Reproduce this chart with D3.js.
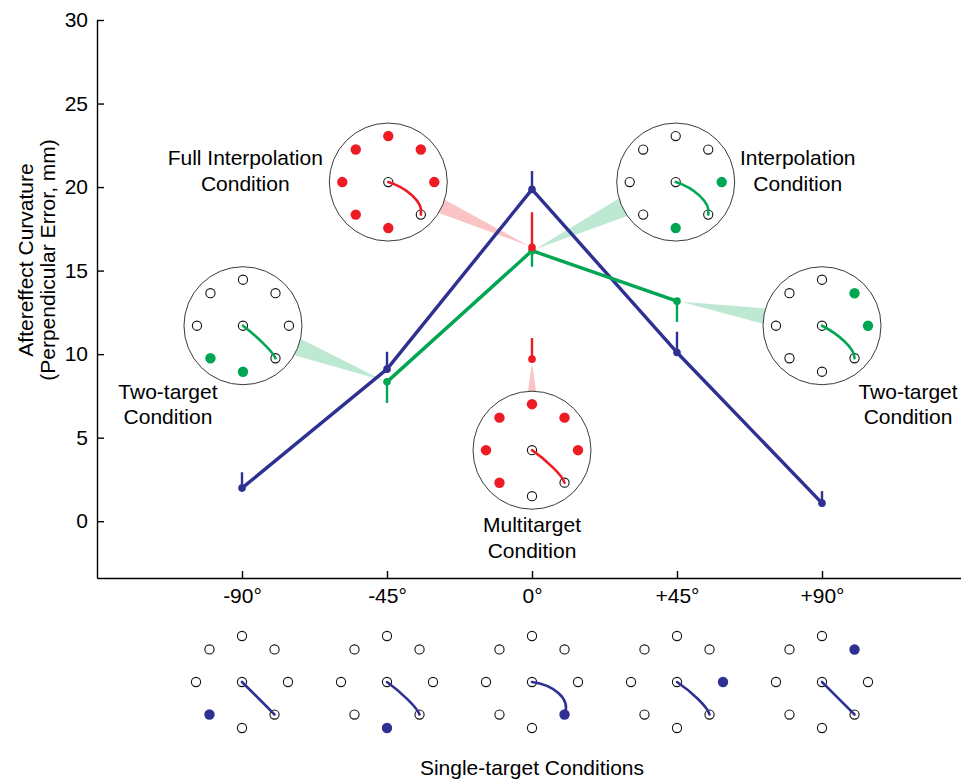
<!DOCTYPE html>
<html>
<head>
<meta charset="utf-8">
<script src="https://cdn.jsdelivr.net/npm/d3@7"></script>
<style>
  html, body { margin: 0; padding: 0; background: #fff; }
  svg { display: block; }
  text { font-family: "Liberation Sans", Arial, Helvetica, sans-serif; fill: #000; }
</style>
</head>
<body>
<svg id="chart" width="961" height="780"></svg>
<script>
// ---------------- data ----------------
const categories = [-90, -45, 0, 45, 90];
const tickLabels = ["-90°", "-45°", "0°", "+45°", "+90°"];
const yTicks = [0, 5, 10, 15, 20, 25, 30];

// Single-target conditions (blue)
const singleValues = [1.98, 9.1, 19.86, 10.1, 1.08];
const singleErrors = [0.95, 1.04, 1.1, 1.24, 0.72];

// Two-target / interpolation conditions (green)
const twoAngles = [-45, 0, 45];
const twoValues = [8.34, 16.19, 13.17];
const twoErrors = [1.26, 0.96, 1.24];

// Full interpolation & multitarget conditions (red), both at 0°
const redAngles = [0, 0];
const redValues = [16.39, 9.7];
const redErrors = [2.1, 1.26];

// Trained-target offsets (deg) relative to the probe target for each inset
const fullInterpTargets = [45, 90, 135, 180, -135, -90, -45];
const interpTargets = [-45, 45];
const twoLeftTargets = [-90, -45];
const twoRightTargets = [45, 90];
const multiTargets = [45, 90, 135, 180, -135, -90];

// ---------------- layout ----------------
const blue = "#2e3192", green = "#00a651", red = "#ed1c24";
const FS = 21;
const svg = d3.select("#chart");

const x = d3.scaleLinear().domain([-135, 135]).range([97, 967]);
const y = d3.scaleLinear().domain([-3.4, 30]).range([578, 20]);

const R_INSET = 59, R_RING = 46, R_OPEN = 4.6, R_FILL = 5.2;
const PROBE = -45; // probe target direction (deg, math convention)

// ---------- helpers ----------
function dirVec(deg) {
  const a = deg * Math.PI / 180;
  return [Math.cos(a), -Math.sin(a)];
}

function drawTargetGlyph(g, filledOffsets, color, value, withBorder) {
  if (withBorder) {
    g.append("circle").attr("r", R_INSET).attr("fill", "#fff")
      .attr("stroke", "#3a3a3a").attr("stroke-width", 1);
  }
  const angles = d3.range(8).map(i => i * 45);
  const filledAngles = filledOffsets.map(o => ((PROBE + o) % 360 + 360) % 360);
  const probeA = ((PROBE % 360) + 360) % 360;
  const openAngles = angles.filter(a => !filledAngles.includes(a));
  g.selectAll("circle.open").data(openAngles).enter().append("circle")
    .attr("class", "open")
    .attr("cx", a => dirVec(a)[0] * R_RING)
    .attr("cy", a => dirVec(a)[1] * R_RING)
    .attr("r", R_OPEN).attr("fill", "#fff").attr("stroke", "#111").attr("stroke-width", 1.1);
  g.append("circle").attr("r", R_OPEN).attr("fill", "#fff").attr("stroke", "#111").attr("stroke-width", 1.1);
  g.selectAll("circle.fill").data(filledAngles).enter().append("circle")
    .attr("class", "fill")
    .attr("cx", a => dirVec(a)[0] * R_RING)
    .attr("cy", a => dirVec(a)[1] * R_RING)
    .attr("r", R_FILL).attr("fill", color);
  // trajectory to probe target, bowed according to the aftereffect value
  const e = dirVec(probeA).map(v => v * R_RING);
  const len = Math.hypot(e[0], e[1]);
  const perp = [e[1] / len, -e[0] / len]; // counter-clockwise side
  const dev = value * value * 0.0275;
  const off = dev / 0.656;
  const c1 = [e[0] * 0.35 + perp[0] * off * 0.75, e[1] * 0.35 + perp[1] * off * 0.75];
  const c2 = [e[0] * 0.85 + perp[0] * off, e[1] * 0.85 + perp[1] * off];
  const p = d3.path();
  p.moveTo(0, 0);
  p.bezierCurveTo(c1[0], c1[1], c2[0], c2[1], e[0], e[1]);
  g.append("path").attr("d", p.toString()).attr("fill", "none")
    .attr("stroke", color).attr("stroke-width", 2.6).attr("stroke-linecap", "round");
}

function drawWedge(layer, cx, cy, px, py, width, color, gap) {
  const dx = px - cx, dy = py - cy;
  const L = Math.hypot(dx, dy);
  const u = [dx / L, dy / L], n = [-u[1], u[0]];
  const b = [cx + u[0] * (R_INSET - 3), cy + u[1] * (R_INSET - 3)];
  const tip = [px - u[0] * gap, py - u[1] * gap];
  const pts = [[b[0] + n[0] * width / 2, b[1] + n[1] * width / 2],
               [b[0] - n[0] * width / 2, b[1] - n[1] * width / 2], tip];
  layer.append("path").attr("d", d3.line()(pts) + "Z")
    .attr("fill", color).attr("fill-opacity", 0.26);
}

function drawLabel(layer, cx, lines, y0) {
  lines.forEach((t, i) => {
    layer.append("text").attr("x", cx).attr("y", y0 + i * 25.5)
      .attr("text-anchor", "middle").attr("font-size", FS).text(t);
  });
}

// ---------------- axes ----------------
const yAxis = d3.axisLeft(y).tickValues(yTicks).tickSizeInner(-7).tickSizeOuter(0).tickPadding(9);
const gy = svg.append("g").attr("transform", `translate(${x(-135)},0)`).call(yAxis);
gy.selectAll("text").attr("font-size", FS).style("font-family", '"Liberation Sans", Arial, sans-serif');
gy.selectAll("line,path").attr("stroke", "#000").attr("stroke-width", 1.4);

const xAxis = d3.axisBottom(x).tickValues(categories).tickFormat((d, i) => tickLabels[i])
  .tickSizeInner(-7).tickSizeOuter(0).tickPadding(10);
const gx = svg.append("g").attr("transform", `translate(0,${y(-3.4)})`).call(xAxis);
gx.selectAll("text").attr("font-size", FS).style("font-family", '"Liberation Sans", Arial, sans-serif');
gx.selectAll("line,path").attr("stroke", "#000").attr("stroke-width", 1.4);

// y title
const yt = svg.append("text").attr("transform", `translate(33,260) rotate(-90)`)
  .attr("text-anchor", "middle").attr("font-size", FS);
yt.append("tspan").attr("x", 0).attr("y", 0).text("Aftereffect Curvature");
yt.append("tspan").attr("x", 0).attr("y", 22).text("(Perpendicular Error, mm)");

// ---------------- insets ----------------
const wedgeLayer = svg.append("g");
const insetLayer = svg.append("g");
const labelLayer = svg.append("g");

const insets = [
  { pos: [-44.6, 20.3], targets: fullInterpTargets, color: red, value: redValues[0],
    point: [redAngles[0], redValues[0]], w: 15,
    label: ["Full Interpolation", "Condition"], lx: -143, ly: -17 },
  { pos: [44.6, 20.3], targets: interpTargets, color: green, value: twoValues[1],
    point: [twoAngles[1], twoValues[1]], w: 20,
    label: ["Interpolation", "Condition"], lx: 122, ly: -17 },
  { pos: [-89.7, 11.7], targets: twoLeftTargets, color: green, value: twoValues[0],
    point: [twoAngles[0], twoValues[0]], w: 18,
    label: ["Two-target", "Condition"], lx: -75, ly: 73 },
  { pos: [90, 11.7], targets: twoRightTargets, color: green, value: twoValues[2],
    point: [twoAngles[2], twoValues[2]], w: 16,
    label: ["Two-target", "Condition"], lx: 86, ly: 73 },
  { pos: [0, 4.25], targets: multiTargets, color: red, value: redValues[1],
    point: [redAngles[1], redValues[1]], w: 9,
    label: ["Multitarget", "Condition"], lx: 0, ly: 82 }
];

insets.forEach(d => {
  const cx = x(d.pos[0]), cy = y(d.pos[1]);
  drawWedge(wedgeLayer, cx, cy, x(d.point[0]), y(d.point[1]), d.w, d.color, 4);
  const g = insetLayer.append("g").attr("transform", `translate(${cx},${cy})`);
  drawTargetGlyph(g, d.targets, d.color, d.value, true);
  drawLabel(labelLayer, cx + d.lx, d.label, cy + d.ly);
});

// ---------------- data marks ----------------
const line = d3.line().x(d => x(d[0])).y(d => y(d[1]));

// blue single-target
const blueData = categories.map((c, i) => [c, singleValues[i], singleErrors[i]]);
svg.append("g").selectAll("line").data(blueData).enter().append("line")
  .attr("x1", d => x(d[0])).attr("x2", d => x(d[0]))
  .attr("y1", d => y(d[1])).attr("y2", d => y(d[1] + d[2]))
  .attr("stroke", blue).attr("stroke-width", 2.4);
svg.append("path").datum(blueData).attr("d", line).attr("fill", "none")
  .attr("stroke", blue).attr("stroke-width", 3.4).attr("stroke-linejoin", "round");
svg.append("g").selectAll("circle").data(blueData).enter().append("circle")
  .attr("cx", d => x(d[0])).attr("cy", d => y(d[1])).attr("r", 3.8).attr("fill", blue);

// green two-target
const greenData = twoAngles.map((c, i) => [c, twoValues[i], twoErrors[i]]);
svg.append("g").selectAll("line").data(greenData).enter().append("line")
  .attr("x1", d => x(d[0])).attr("x2", d => x(d[0]))
  .attr("y1", d => y(d[1])).attr("y2", d => y(d[1] - d[2]))
  .attr("stroke", green).attr("stroke-width", 2.4);
svg.append("path").datum(greenData).attr("d", line).attr("fill", "none")
  .attr("stroke", green).attr("stroke-width", 3.4).attr("stroke-linejoin", "round");
svg.append("g").selectAll("circle").data(greenData).enter().append("circle")
  .attr("cx", d => x(d[0])).attr("cy", d => y(d[1])).attr("r", 3.8).attr("fill", green);

// red points
const redData = redAngles.map((c, i) => [c, redValues[i], redErrors[i]]);
svg.append("g").selectAll("line").data(redData).enter().append("line")
  .attr("x1", d => x(d[0])).attr("x2", d => x(d[0]))
  .attr("y1", d => y(d[1])).attr("y2", d => y(d[1] + d[2]))
  .attr("stroke", red).attr("stroke-width", 2.4);
svg.append("g").selectAll("circle").data(redData).enter().append("circle")
  .attr("cx", d => x(d[0])).attr("cy", d => y(d[1])).attr("r", 3.8).attr("fill", red);

// ---------------- single-target glyphs ----------------
const glyphY = 682;
categories.forEach((c, i) => {
  const g = svg.append("g").attr("transform", `translate(${x(c)},${glyphY})`);
  drawTargetGlyph(g, [c], blue, singleValues[i], false);
});

svg.append("text").attr("x", x(0)).attr("y", 775).attr("text-anchor", "middle")
  .attr("font-size", FS).text("Single-target Conditions");
</script>
</body>
</html>
